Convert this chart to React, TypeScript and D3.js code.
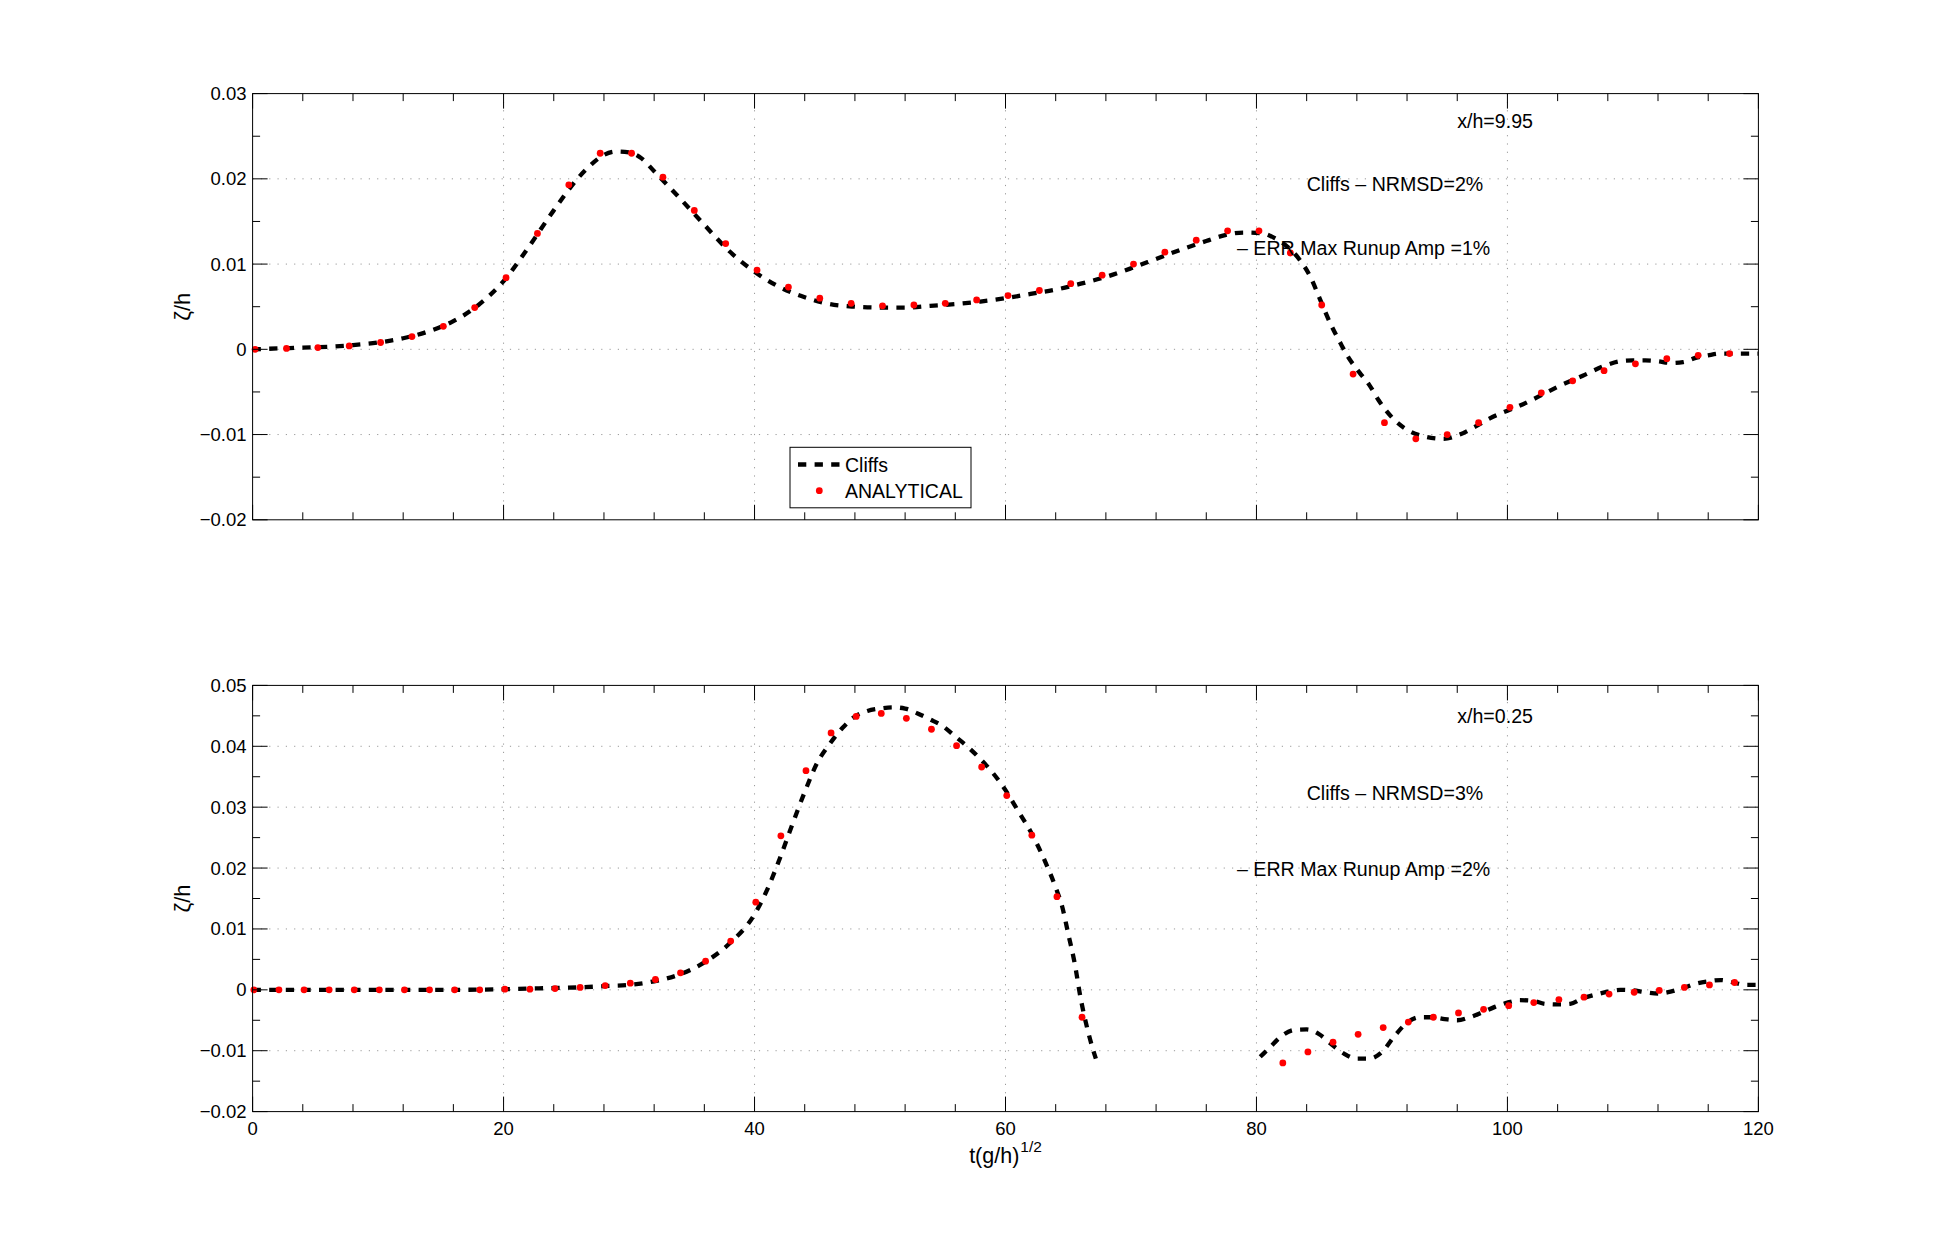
import React, { useEffect, useRef } from "react";
import * as d3 from "d3";

// ---------- data ----------
// Top panel (x/h = 9.95)
const topCliffsT = [0, 2, 4, 6, 8, 10, 12, 14, 16, 18, 20, 22, 24, 26, 27, 28, 29, 30, 31, 32, 34, 36, 38, 40, 42, 44, 46, 48, 50, 52, 54, 56, 58, 60, 62, 64, 66, 68, 70, 72, 74, 76, 77.5, 79, 80.5, 81.5, 82.5, 83.5, 84.3, 85.0, 85.9, 86.7, 87.3, 88.2, 89.0, 89.75, 90.4, 91.3, 92.2, 93.6, 94.9, 96.2, 97.4, 98.6, 99.5, 100, 101, 102, 104, 106, 108, 109, 110, 111, 112, 113, 114, 115, 116, 117, 118, 120];
const topCliffsV = [0.0, 0.0001, 0.0002, 0.0003, 0.0005, 0.0008, 0.0013, 0.0021, 0.0033, 0.0052, 0.0080, 0.0120, 0.0163, 0.0202, 0.0217, 0.0228, 0.0232, 0.0231, 0.0224, 0.0209, 0.0178, 0.0146, 0.0115, 0.0091, 0.0073, 0.0061, 0.0053, 0.0050, 0.0049, 0.0049, 0.0051, 0.0053, 0.0056, 0.0060, 0.0065, 0.0070, 0.0077, 0.0085, 0.0095, 0.0106, 0.0117, 0.0127, 0.0134, 0.0137, 0.0136, 0.0130, 0.0120, 0.0104, 0.0085, 0.0061, 0.0030, 0.0007, -0.0009, -0.0027, -0.0042, -0.0060, -0.0073, -0.0087, -0.0096, -0.0103, -0.0105, -0.0100, -0.0091, -0.0081, -0.0075, -0.0072, -0.0066, -0.0059, -0.0044, -0.0031, -0.0018, -0.0014, -0.0013, -0.0013, -0.0014, -0.0016, -0.0015, -0.0010, -0.0007, -0.0005, -0.0005, -0.0005];

const topAnalyticalT = [0.2, 2.7, 5.2, 7.7, 10.2, 12.7, 15.2, 17.7, 20.2, 22.7, 25.2, 27.7, 30.2, 32.7, 35.2, 37.7, 40.2, 42.7, 45.2, 47.7, 50.2, 52.7, 55.2, 57.7, 60.2, 62.7, 65.2, 67.7, 70.2, 72.7, 75.2, 77.7, 80.2, 82.7, 85.2, 87.7, 90.2, 92.7, 95.2, 97.7, 100.2, 102.7, 105.2, 107.7, 110.2, 112.7, 115.2, 117.7];
const topAnalyticalV = [0.0, 0.0001, 0.0002, 0.0004, 0.0008, 0.0015, 0.0027, 0.0049, 0.0084, 0.0136, 0.0193, 0.0230, 0.0230, 0.0202, 0.0163, 0.0124, 0.0093, 0.0073, 0.0060, 0.0054, 0.0051, 0.0052, 0.0054, 0.0058, 0.0063, 0.0069, 0.0077, 0.0087, 0.0100, 0.0114, 0.0128, 0.0139, 0.0139, 0.0113, 0.0052, -0.0029, -0.0086, -0.0105, -0.0100, -0.0086, -0.0068, -0.0051, -0.0037, -0.0025, -0.0017, -0.0011, -0.0007, -0.0005];

// Bottom panel (x/h = 0.25); null marks the gap in the Cliffs curve
const botCliffsT = [0, 10, 16, 20, 22, 24, 26, 28, 30, 32, 34, 36, 38, 40, 41, 42, 43, 44, 45, 46, 47, 48, 49, 50, 51, 52, 53, 54, 55, 56, 57, 58, 59, 60, 61, 62, 63, 64, 64.5, 65, 65.5, 66, 66.5, 67, 67.2, 74, 80.3, 81, 82, 83, 84, 85, 86, 87, 88, 89, 90, 91, 92, 93, 94, 95, 96, 97, 98, 99, 100, 101, 102, 103, 104, 105, 106, 107, 108, 109, 110, 111, 112, 113, 114, 115, 116, 117, 118, 119, 120];
const botCliffsV = [0.0, 0.0, 0.0, 0.0001, 0.0002, 0.0003, 0.0004, 0.0006, 0.0008, 0.0014, 0.0025, 0.0045, 0.0076, 0.0124, 0.0164, 0.0215, 0.0271, 0.0325, 0.0373, 0.0404, 0.0430, 0.0449, 0.0458, 0.0462, 0.0464, 0.0462, 0.0454, 0.0444, 0.0433, 0.0416, 0.0399, 0.0379, 0.0356, 0.0328, 0.0294, 0.0260, 0.0218, 0.0168, 0.0138, 0.0092, 0.0045, -0.0015, -0.0062, -0.0100, -0.0113, null, -0.0110, -0.0096, -0.0076, -0.0066, -0.0065, -0.0073, -0.0090, -0.0105, -0.0113, -0.0113, -0.0102, -0.0076, -0.0054, -0.0045, -0.0045, -0.0048, -0.0050, -0.0045, -0.0037, -0.0028, -0.0021, -0.0017, -0.0018, -0.0023, -0.0024, -0.0023, -0.0014, -0.0008, -0.0003, 0.0, -0.0001, -0.0004, -0.0006, -0.0003, 0.0003, 0.0010, 0.0014, 0.0016, 0.0012, 0.0008, 0.0008];

const botAnalyticalT = [0.1, 2.1, 4.1, 6.1, 8.1, 10.1, 12.1, 14.1, 16.1, 18.1, 20.1, 22.1, 24.1, 26.1, 28.1, 30.1, 32.1, 34.1, 36.1, 38.1, 40.1, 42.1, 44.1, 46.1, 48.1, 50.1, 52.1, 54.1, 56.1, 58.1, 60.1, 62.1, 64.1, 66.1, 82.1, 84.1, 86.1, 88.1, 90.1, 92.1, 94.1, 96.1, 98.1, 100.1, 102.1, 104.1, 106.1, 108.1, 110.1, 112.1, 114.1, 116.1, 118.1];
const botAnalyticalV = [0.0, 0.0, 0.0, 0.0, 0.0, 0.0, 0.0, 0.0, 0.0, 0.0, 0.0001, 0.0001, 0.0002, 0.0004, 0.0007, 0.0011, 0.0017, 0.0028, 0.0047, 0.0080, 0.0144, 0.0253, 0.0360, 0.0422, 0.0449, 0.0454, 0.0446, 0.0428, 0.0401, 0.0366, 0.0319, 0.0254, 0.0153, -0.0045, -0.0120, -0.0102, -0.0086, -0.0073, -0.0062, -0.0053, -0.0045, -0.0038, -0.0032, -0.0026, -0.0021, -0.0016, -0.0012, -0.0007, -0.0004, -0.0001, 0.0004, 0.0008, 0.0012];

// Ticks
const xTicks = [0, 20, 40, 60, 80, 100, 120];
const xMinorTicks = [4, 8, 12, 16, 24, 28, 32, 36, 44, 48, 52, 56, 64, 68, 72, 76, 84, 88, 92, 96, 104, 108, 112, 116];
const topYTicks = [-0.02, -0.01, 0, 0.01, 0.02, 0.03];
const topYMinor = [-0.015, -0.005, 0.005, 0.015, 0.025];
const botYTicks = [-0.02, -0.01, 0, 0.01, 0.02, 0.03, 0.04, 0.05];
const botYMinor = [-0.015, -0.005, 0.005, 0.015, 0.025, 0.035, 0.045];

// Annotations
const topNotes = ["x/h=9.95", "Cliffs \u2013 NRMSD=2%", "\u2013 ERR Max Runup Amp =1%"];
const botNotes = ["x/h=0.25", "Cliffs \u2013 NRMSD=3%", "\u2013 ERR Max Runup Amp =2%"];
const legendLabels = ["Cliffs", "ANALYTICAL"];

// ---------- layout ----------
const W = 1943;
const H = 1249;
const AX_L = 252.6;
const AX_W = 1505.8;
const FONT = "'Liberation Sans', Arial, Helvetica, sans-serif";
const topNotePos = [[96.0, 0.0268], [84.0, 0.0194], [78.45, 0.0119]];
const botNotePos = [[96.0, 0.0449], [84.0, 0.0324], [78.45, 0.0199]];

function fmtTick(v: number): string {
  if (Math.abs(v) < 1e-12) return "0";
  const s = Math.abs(v).toFixed(2);
  return (v < 0 ? "\u2212" : "") + s;
}

export default function App() {
  const ref = useRef<SVGSVGElement | null>(null);

  useEffect(() => {
    const svg = d3.select(ref.current);
    svg.selectAll("*").remove();
    svg.append("rect").attr("width", W).attr("height", H).attr("fill", "white");

    const x = d3.scaleLinear().domain([0, 120]).range([AX_L, AX_L + AX_W]);

    function panel(
      top: number,
      bottom: number,
      yDomain: [number, number],
      yTicks: number[],
      yMinor: number[],
      showX: boolean,
      lineT: number[],
      lineV: (number | null)[],
      dotT: number[],
      dotV: number[],
      notes: string[],
      notePos: number[][]
    ) {
      const y = d3.scaleLinear().domain(yDomain).range([bottom, top]);
      const g = svg.append("g");
      const x0 = AX_L, x1 = AX_L + AX_W;

      // grid
      const grid = g.append("g").attr("stroke", "#9a9a9a").attr("stroke-width", 1).attr("stroke-dasharray", "1.2 7.1");
      xTicks.filter((t) => t > 0 && t < 120).forEach((t) => {
        grid.append("line").attr("x1", x(t)).attr("x2", x(t)).attr("y1", top).attr("y2", bottom);
      });
      yTicks.filter((t) => t > yDomain[0] + 1e-9 && t < yDomain[1] - 1e-9).forEach((t) => {
        grid.append("line").attr("x1", x0).attr("x2", x1).attr("y1", y(t)).attr("y2", y(t));
      });

      // cliffs line
      const pts = lineT.map((t, i) => [t, lineV[i]] as [number, number | null]);
      const line = d3
        .line<[number, number | null]>()
        .defined((d) => d[1] !== null)
        .x((d) => x(d[0]))
        .y((d) => y(d[1] as number))
        .curve(d3.curveMonotoneX);
      g.append("path")
        .attr("d", line(pts) as string)
        .attr("fill", "none")
        .attr("stroke", "black")
        .attr("stroke-width", 4.3)
        .attr("stroke-dasharray", "8.3 8.3");

      // analytical dots
      g.append("g")
        .selectAll("circle")
        .data(dotT.map((t, i) => [t, dotV[i]]))
        .join("circle")
        .attr("cx", (d) => x(d[0]))
        .attr("cy", (d) => y(d[1]))
        .attr("r", 3.4)
        .attr("fill", "#ff0000");

      // notes
      notes.forEach((s, i) => {
        g.append("text")
          .attr("x", x(notePos[i][0]))
          .attr("y", y(notePos[i][1]))
          .attr("dominant-baseline", "central")
          .attr("font-family", FONT)
          .attr("font-size", 19.6)
          .attr("fill", "black")
          .text(s);
      });

      // box
      g.append("rect")
        .attr("x", x0)
        .attr("y", top)
        .attr("width", AX_W)
        .attr("height", bottom - top)
        .attr("fill", "none")
        .attr("stroke", "black")
        .attr("stroke-width", 1);

      // ticks
      const tk = g.append("g").attr("stroke", "black").attr("stroke-width", 1);
      const MAJ = 15, MIN = 7.5;
      xTicks.forEach((t) => {
        tk.append("line").attr("x1", x(t)).attr("x2", x(t)).attr("y1", bottom).attr("y2", bottom - MAJ);
        tk.append("line").attr("x1", x(t)).attr("x2", x(t)).attr("y1", top).attr("y2", top + MAJ);
      });
      xMinorTicks.forEach((t) => {
        tk.append("line").attr("x1", x(t)).attr("x2", x(t)).attr("y1", bottom).attr("y2", bottom - MIN);
        tk.append("line").attr("x1", x(t)).attr("x2", x(t)).attr("y1", top).attr("y2", top + MIN);
      });
      yTicks.forEach((t) => {
        tk.append("line").attr("x1", x0).attr("x2", x0 + MAJ).attr("y1", y(t)).attr("y2", y(t));
        tk.append("line").attr("x1", x1).attr("x2", x1 - MAJ).attr("y1", y(t)).attr("y2", y(t));
      });
      yMinor.forEach((t) => {
        tk.append("line").attr("x1", x0).attr("x2", x0 + MIN).attr("y1", y(t)).attr("y2", y(t));
        tk.append("line").attr("x1", x1).attr("x2", x1 - MIN).attr("y1", y(t)).attr("y2", y(t));
      });

      // y tick labels
      yTicks.forEach((t) => {
        g.append("text")
          .attr("x", x0 - 6)
          .attr("y", y(t))
          .attr("text-anchor", "end")
          .attr("dominant-baseline", "central")
          .attr("font-family", FONT)
          .attr("font-size", 18.5)
          .text(fmtTick(t));
      });

      if (showX) {
        xTicks.forEach((t) => {
          g.append("text")
            .attr("x", x(t))
            .attr("y", bottom + 23.5)
            .attr("text-anchor", "middle")
            .attr("font-family", FONT)
            .attr("font-size", 18.5)
            .text(String(t));
        });
      }

      // y label
      g.append("text")
        .attr("transform", `translate(190, ${(top + bottom) / 2}) rotate(-90)`)
        .attr("text-anchor", "middle")
        .attr("font-family", FONT)
        .attr("font-size", 22)
        .text("\u03b6/h");

      return y;
    }

    panel(93.6, 519.8, [-0.02, 0.03], topYTicks, topYMinor, false, topCliffsT, topCliffsV, topAnalyticalT, topAnalyticalV, topNotes, topNotePos);
    panel(685.4, 1111.6, [-0.02, 0.05], botYTicks, botYMinor, true, botCliffsT, botCliffsV, botAnalyticalT, botAnalyticalV, botNotes, botNotePos);

    // x label
    const xl = svg.append("text")
      .attr("x", AX_L + AX_W / 2)
      .attr("y", 1163)
      .attr("text-anchor", "middle")
      .attr("font-family", FONT)
      .attr("font-size", 21.5);
    xl.append("tspan").text("t(g/h)");
    xl.append("tspan").attr("dy", -11).attr("dx", 1).attr("font-size", 15.5).text("1/2");

    // legend
    const lg = svg.append("g");
    lg.append("rect").attr("x", 790).attr("y", 447.3).attr("width", 181).attr("height", 60.5)
      .attr("fill", "white").attr("stroke", "black").attr("stroke-width", 1);
    lg.append("line").attr("x1", 798).attr("x2", 840).attr("y1", 464.5).attr("y2", 464.5)
      .attr("stroke", "black").attr("stroke-width", 4.3).attr("stroke-dasharray", "8.3 8.3");
    lg.append("circle").attr("cx", 819.3).attr("cy", 490.7).attr("r", 3.4).attr("fill", "#ff0000");
    legendLabels.forEach((s, i) => {
      lg.append("text")
        .attr("x", 845)
        .attr("y", i === 0 ? 464.5 : 490.7)
        .attr("dominant-baseline", "central")
        .attr("font-family", FONT)
        .attr("font-size", 19.5)
        .text(s);
    });
  }, []);

  return (
    <svg
      ref={ref}
      width={W}
      height={H}
      style={{ position: "absolute", left: 0, top: 0, display: "block" }}
    />
  );
}
